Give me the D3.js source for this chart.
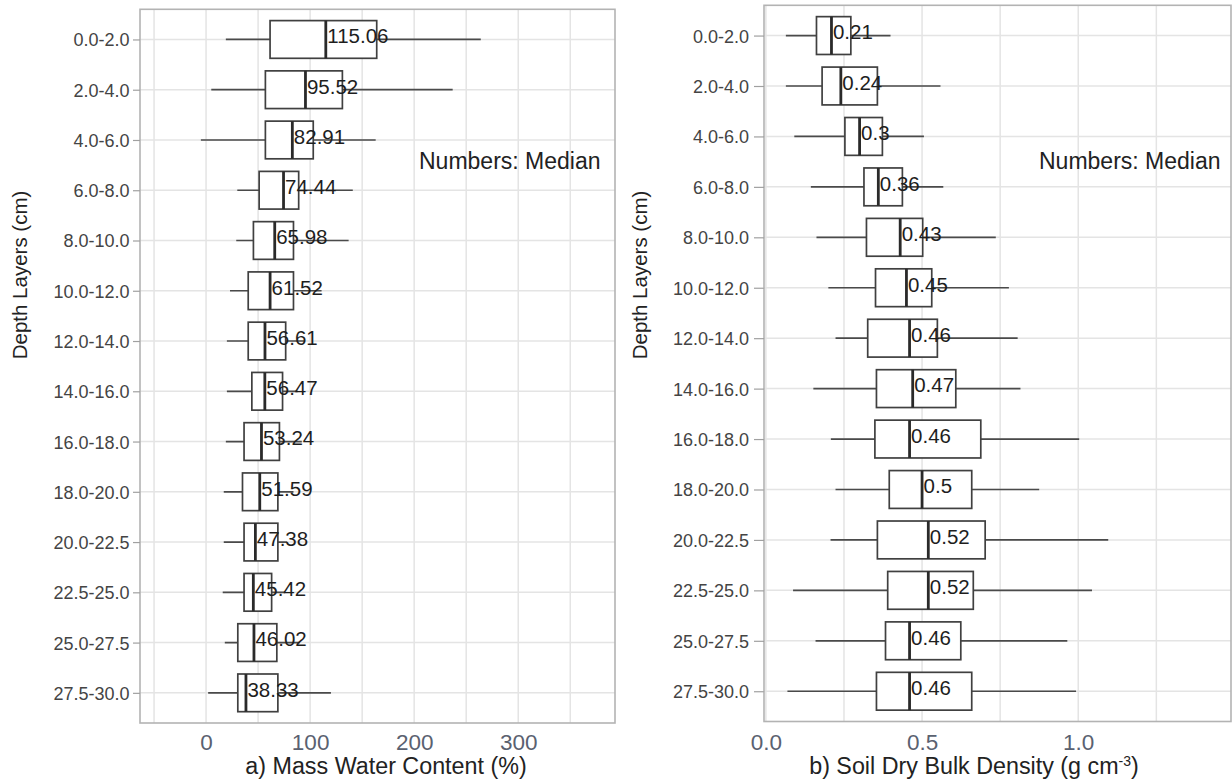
<!DOCTYPE html>
<html>
<head>
<meta charset="utf-8">
<script src="https://cdn.jsdelivr.net/npm/d3@7"></script>
<style>
  html, body { margin: 0; padding: 0; background: #ffffff; }
  svg { display: block; font-family: "Liberation Sans", Arial, Helvetica, sans-serif; }
</style>
</head>
<body>
<svg id="chart" width="1232" height="781"></svg>
<script>
// Depth layers (top to bottom)
const depthLayers = ["0.0-2.0", "2.0-4.0", "4.0-6.0", "6.0-8.0", "8.0-10.0", "10.0-12.0", "12.0-14.0",
  "14.0-16.0", "16.0-18.0", "18.0-20.0", "20.0-22.5", "22.5-25.0", "25.0-27.5", "27.5-30.0"];

// a) Mass water content (%) — whisker ends, quartiles and medians
const mwcMin    = [19, 5, -5, 30, 29, 23, 20, 20, 19, 17, 17, 16, 18, 2];
const mwcQ1     = [61.5, 57, 57, 51, 45.5, 40.5, 40.5, 44, 36.5, 35, 36.5, 36.5, 30.5, 30.5];
const mwcMedian = [115.06, 95.52, 82.91, 74.44, 65.98, 61.52, 56.61, 56.47, 53.24, 51.59, 47.38, 45.42, 46.02, 38.33];
const mwcQ3     = [164, 131, 103, 89, 84, 84, 76.5, 73.5, 70.5, 69, 69, 63, 68, 69];
const mwcMax    = [264, 237, 163, 141, 137, 111, 95, 88, 92, 84, 78, 76, 90, 120];
const mwcTicks  = [0, 100, 200, 300];
const mwcGrid   = [-50, 0, 50, 100, 150, 200, 250, 300, 350];

// b) Soil dry bulk density (g cm-3)
const bdMin    = [0.064, 0.064, 0.091, 0.144, 0.162, 0.200, 0.223, 0.152, 0.208, 0.223, 0.207, 0.087, 0.159, 0.069];
const bdQ1     = [0.162, 0.180, 0.253, 0.314, 0.322, 0.351, 0.326, 0.354, 0.349, 0.395, 0.357, 0.390, 0.383, 0.354];
const bdMedian = [0.21, 0.24, 0.3, 0.36, 0.43, 0.45, 0.46, 0.47, 0.46, 0.5, 0.52, 0.52, 0.46, 0.46];
const bdQ3     = [0.272, 0.357, 0.373, 0.437, 0.502, 0.531, 0.549, 0.608, 0.688, 0.659, 0.702, 0.664, 0.624, 0.659];
const bdMax    = [0.399, 0.559, 0.506, 0.568, 0.736, 0.778, 0.806, 0.815, 1.003, 0.875, 1.096, 1.044, 0.965, 0.993];
const bdTicks  = [0.0, 0.5, 1.0];
const bdGrid   = [0, 0.25, 0.5, 0.75, 1.0, 1.25];

const svg = d3.select("#chart");

function drawPanel(cfg) {
  const { left, right, top, bottom, xDomain, mins, q1s, meds, q3s, maxs,
          ticks, grid, tickFormat, labelFormat, yLabelX, yTickSize, yTickPad,
          xTickPad, titleX, titleY, titleNode } = cfg;

  const x = d3.scaleLinear().domain(xDomain).range([left, right]);
  const y = d3.scalePoint().domain(depthLayers).range([top, bottom]).padding(0.6);
  const step = y.step();
  const boxH = step * 0.75;

  const g = svg.append("g");

  // grid
  g.append("g").selectAll("line.v").data(grid).join("line")
    .attr("x1", d => x(d)).attr("x2", d => x(d))
    .attr("y1", top).attr("y2", bottom)
    .attr("stroke", "#e4e4e4").attr("stroke-width", 1.5);
  g.append("g").selectAll("line.h").data(depthLayers).join("line")
    .attr("x1", left).attr("x2", right)
    .attr("y1", d => y(d)).attr("y2", d => y(d))
    .attr("stroke", "#e4e4e4").attr("stroke-width", 1.5);

  const rows = depthLayers.map((d, i) => ({ d, lo: mins[i], q1: q1s[i], med: meds[i], q3: q3s[i], hi: maxs[i] }));

  // whiskers
  g.append("g").selectAll("line").data(rows).join("line")
    .attr("x1", r => x(r.lo)).attr("x2", r => x(r.hi))
    .attr("y1", r => y(r.d)).attr("y2", r => y(r.d))
    .attr("stroke", "#4a4a4a").attr("stroke-width", 1.7);

  // boxes
  g.append("g").selectAll("rect").data(rows).join("rect")
    .attr("x", r => x(r.q1)).attr("width", r => x(r.q3) - x(r.q1))
    .attr("y", r => y(r.d) - boxH / 2).attr("height", boxH)
    .attr("fill", "#ffffff").attr("stroke", "#404040").attr("stroke-width", 1.7);

  // medians
  g.append("g").selectAll("line").data(rows).join("line")
    .attr("x1", r => x(r.med)).attr("x2", r => x(r.med))
    .attr("y1", r => y(r.d) - boxH / 2).attr("y2", r => y(r.d) + boxH / 2)
    .attr("stroke", "#2a2a2a").attr("stroke-width", 2.8);

  // median values
  g.append("g").selectAll("text").data(rows).join("text")
    .attr("x", r => x(r.med) + 1.5)
    .attr("y", r => y(r.d) + 3.8)
    .attr("font-size", 20.5).attr("fill", "#1e1e1e")
    .text(r => labelFormat(r.med));

  // panel border
  g.append("rect")
    .attr("x", left).attr("y", top).attr("width", right - left).attr("height", bottom - top)
    .attr("fill", "none").attr("stroke", "#b3b3b3").attr("stroke-width", 1.6);

  // y axis
  const ya = g.append("g").attr("transform", `translate(${left},0)`)
    .call(d3.axisLeft(y).tickSize(yTickSize).tickPadding(yTickPad));
  ya.select(".domain").remove();
  ya.selectAll(".tick line").attr("stroke", "#a0a0a0").attr("stroke-width", 1.2);
  ya.selectAll(".tick text").attr("font-size", 18).attr("fill", "#444")
    .attr("font-family", "Liberation Sans, Arial, sans-serif").attr("dy", "0.36em");

  // x axis
  const xa = g.append("g").attr("transform", `translate(0,${bottom})`)
    .call(d3.axisBottom(x).tickValues(ticks).tickSize(0).tickPadding(xTickPad).tickFormat(tickFormat));
  xa.select(".domain").remove();
  xa.selectAll(".tick text").attr("font-size", 22.5).attr("fill", "#5a6170")
    .attr("font-family", "Liberation Sans, Arial, sans-serif");

  // y title
  g.append("text")
    .attr("transform", `translate(${yLabelX},${275}) rotate(-90)`)
    .attr("text-anchor", "middle").attr("font-size", 20.5).attr("fill", "#222")
    .text("Depth Layers (cm)");

  // x title
  const t = g.append("text")
    .attr("x", titleX).attr("y", titleY)
    .attr("text-anchor", "middle").attr("font-size", 23.3).attr("fill", "#222");
  titleNode(t);

  // annotation
  g.append("text")
    .attr("x", cfg.noteX).attr("y", 169)
    .attr("font-size", 23).attr("fill", "#222")
    .text("Numbers: Median");
}

drawPanel({
  left: 140, right: 615, top: 9.3, bottom: 723,
  xDomain: [-63.5, 393],
  mins: mwcMin, q1s: mwcQ1, meds: mwcMedian, q3s: mwcQ3, maxs: mwcMax,
  ticks: mwcTicks, grid: mwcGrid,
  tickFormat: d3.format("d"), labelFormat: d => d3.format(".2f")(d),
  yLabelX: 27, yTickSize: 7, yTickPad: 3.5, xTickPad: 11,
  titleX: 386, titleY: 774,
  noteX: 419,
  titleNode: t => t.text("a) Mass Water Content (%)")
});

drawPanel({
  left: 764, right: 1231, top: 5.3, bottom: 721.5,
  xDomain: [-0.006, 1.489],
  mins: bdMin, q1s: bdQ1, meds: bdMedian, q3s: bdQ3, maxs: bdMax,
  ticks: bdTicks, grid: bdGrid,
  tickFormat: d3.format(".1f"), labelFormat: d => String(d),
  yLabelX: 647, yTickSize: 10, yTickPad: 5, xTickPad: 12.5,
  titleX: 974, titleY: 774,
  noteX: 1039,
  titleNode: t => {
    t.append("tspan").text("b) Soil Dry Bulk Density (g cm");
    t.append("tspan").attr("font-size", 14).attr("dy", -8).text("-3");
    t.append("tspan").attr("dy", 8).text(")");
  }
});
</script>
</body>
</html>
